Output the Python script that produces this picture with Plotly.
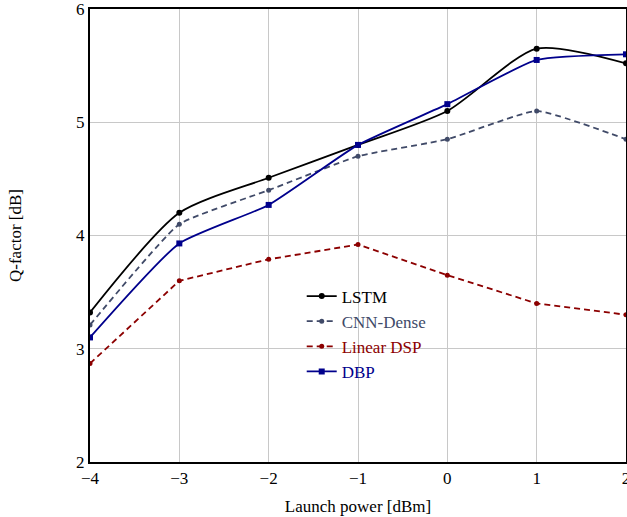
import plotly.graph_objects as go

x_power = [-4, -3, -2, -1, 0, 1, 2]
lstm = [3.32, 4.20, 4.51, 4.80, 5.10, 5.65, 5.52]
cnn_dense = [3.21, 4.10, 4.40, 4.70, 4.85, 5.10, 4.85]
linear_dsp = [2.87, 3.60, 3.79, 3.92, 3.65, 3.40, 3.30]
dbp = [3.10, 3.93, 4.27, 4.80, 5.16, 5.55, 5.60]

x_ticks = [-4, -3, -2, -1, 0, 1, 2]
x_ticklabels = ["\u22124", "\u22123", "\u22122", "\u22121", "0", "1", "2"]
y_ticks = [2, 3, 4, 5, 6]

FONT = "Liberation Serif"

series = [
    ("LSTM", lstm, "black", "solid", "circle", 6, 0.7),
    ("CNN-Dense", cnn_dense, "rgb(64,74,104)", "6px,4px", "circle", 5, 0.4),
    ("Linear DSP", linear_dsp, "rgb(140,0,0)", "6px,4px", "circle", 5, 0.0),
    ("DBP", dbp, "rgb(0,0,140)", "solid", "square", 6, 0.5),
]

fig = go.Figure()
for name, ys, col, dash, sym, msize, smooth in series:
    line = dict(color=col, width=1.8, dash=dash)
    if smooth > 0:
        line.update(shape="spline", smoothing=smooth)
    fig.add_trace(go.Scatter(
        x=x_power, y=ys,
        name="<span style='color:%s'>%s</span>" % (col, name),
        mode="lines+markers",
        line=line,
        marker=dict(color=col, symbol=sym, size=msize),
    ))

fig.update_layout(
    width=627, height=517,
    margin=dict(l=90, r=1, t=9, b=55),
    paper_bgcolor="white", plot_bgcolor="white",
    font=dict(family=FONT, size=17, color="black"),
    showlegend=True,
    legend=dict(x=0.395, y=0.405, xanchor="left", yanchor="top",
                bgcolor="rgba(0,0,0,0)", borderwidth=0,
                font=dict(family=FONT, size=17),
                tracegroupgap=0, itemwidth=30),
    xaxis=dict(range=[-4, 2], tickvals=x_ticks, ticktext=x_ticklabels,
               automargin=False, ticklabeloverflow="allow",
               showgrid=True, gridcolor="rgb(200,200,200)", gridwidth=1,
               showline=True, linecolor="black", linewidth=2, mirror=True,
               ticks="", zeroline=False,
               title=dict(text="Launch power [dBm]", font=dict(family=FONT, size=17), standoff=13)),
    yaxis=dict(range=[2, 6], tickvals=y_ticks,
               automargin=False, ticklabeloverflow="allow",
               showgrid=True, gridcolor="rgb(200,200,200)", gridwidth=1,
               showline=True, linecolor="black", linewidth=2, mirror=True,
               ticks="", zeroline=False,
               title=dict(text="Q-factor [dB]", font=dict(family=FONT, size=17), standoff=50)),
)

fig.write_html("out.html", config={"displayModeBar": False},
               post_script="document.body.style.margin='0';")
